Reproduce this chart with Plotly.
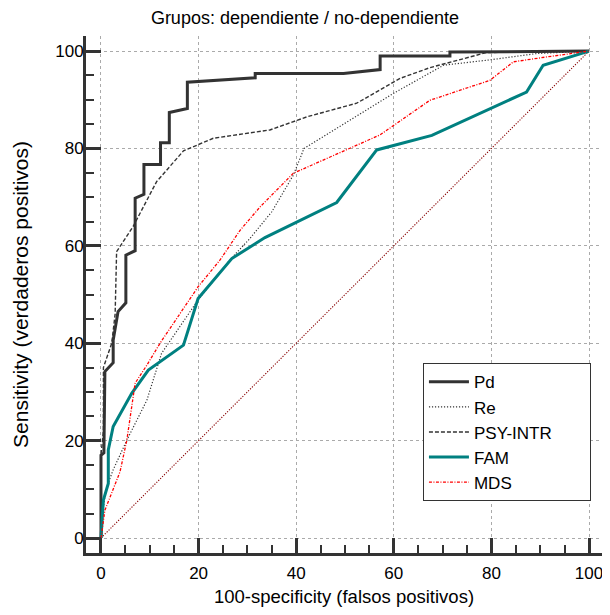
import plotly.graph_objects as go

# ---- data ----
pd_x = [0, 0, 0.6, 0.8, 2.5, 2.5, 3.5, 5.1, 5.1, 7, 7, 8.8, 8.8, 12.2, 12.2, 14, 14, 17.7, 17.7, 31.6, 31.6, 49.7, 57.2, 57.2, 71.5, 71.5, 100]
pd_y = [0, 17, 17.5, 34.2, 36, 40.6, 46.5, 48.3, 58.1, 59, 69.8, 70.6, 76.7, 76.7, 81.2, 81.2, 87.4, 88.2, 93.6, 94.5, 95.4, 95.4, 96.2, 99, 99, 99.8, 100]

re_x = [0, 0.3, 1, 2.5, 5.3, 9.4, 12.4, 19.9, 26.4, 30.5, 35, 39.4, 41.6, 49, 59.9, 70.2, 79.7, 89.3, 100]
re_y = [0, 5, 10, 14, 20.1, 28.3, 37.9, 48.9, 57.1, 61.5, 67, 74.5, 80, 84.5, 91.3, 97.1, 98.2, 99.5, 100]

psy_x = [0, 0, 0.5, 0.5, 2.2, 2.9, 3.2, 6.6, 11.4, 16.9, 23, 34.6, 42.2, 52.4, 61.3, 67.4, 79, 100]
psy_y = [0, 17, 22, 35, 40, 46, 58.8, 64, 73.2, 79.5, 82.1, 83.8, 86.5, 89.3, 94.4, 96.6, 99.7, 100]

fam_x = [0, 0.5, 1.5, 1.5, 2.5, 6.3, 9.7, 16.9, 19.9, 26.8, 33.6, 48.3, 56.5, 67.8, 87.2, 90.6, 100]
fam_y = [0, 7.8, 11.2, 18.1, 22.9, 29.7, 34.5, 39.6, 49.2, 57.4, 61.7, 68.9, 79.7, 82.7, 91.6, 97.1, 100]

mds_x = [0, 0.8, 3.9, 5.3, 7, 9.4, 12.1, 16.2, 19.9, 24.4, 28.5, 32.6, 39.4, 57.2, 67.4, 79.7, 84.5, 91.3, 100]
mds_y = [0, 5.7, 13.6, 20.1, 31.8, 35.5, 40, 46.1, 51.6, 57.1, 63.2, 68, 74.9, 82.8, 89.9, 94, 97.8, 98.8, 100]

diag_x = [0, 100]
diag_y = [0, 100]

series_names = ["Pd", "Re", "PSY-INTR", "FAM", "MDS"]

tick_vals = [0, 20, 40, 60, 80, 100]
tick_text = ["0", "20", "40", "60", "80", "100"]

FONT = "Liberation Sans, Arial, sans-serif"
PAD = "\u00a0" * 7  # widens the legend box to the reference width

fig = go.Figure()
fig.add_trace(go.Scatter(x=diag_x, y=diag_y, mode="lines", showlegend=False,
                         line=dict(color="#880000", width=1.1, dash="1.2px,1.5px"), hoverinfo="skip"))
fig.add_trace(go.Scatter(x=pd_x, y=pd_y, mode="lines", name=series_names[0],
                         line=dict(color="#333333", width=3)))
fig.add_trace(go.Scatter(x=re_x, y=re_y, mode="lines", name=series_names[1],
                         line=dict(color="#333333", width=1.2, dash="1.2px,1.8px")))
fig.add_trace(go.Scatter(x=psy_x, y=psy_y, mode="lines", name=series_names[2] + PAD,
                         line=dict(color="#333333", width=1.4, dash="4px,2px")))
fig.add_trace(go.Scatter(x=fam_x, y=fam_y, mode="lines", name=series_names[3],
                         line=dict(color="#008080", width=3)))
fig.add_trace(go.Scatter(x=mds_x, y=mds_y, mode="lines", name=series_names[4],
                         line=dict(color="#ff0000", width=1.3, dash="3px,1.5px,1px,1.5px")))

axis_common = dict(
    automargin=False,
    showline=True, linewidth=3, linecolor="#333333", mirror=False,
    ticks="inside", ticklen=15, tickwidth=3, tickcolor="#333333",
    tickvals=tick_vals, ticktext=tick_text, ticklabeloverflow="allow",
    showgrid=True, gridcolor="#aaaaaa", gridwidth=1, griddash="dot",
    zeroline=False,
    minor=dict(dtick=5, tick0=0, ticks="inside", ticklen=8, tickwidth=2, tickcolor="#333333", showgrid=False),
    tickfont=dict(family=FONT, size=17, color="#000000"),
)

# page body adds an 8px margin, so the figure is sized to fit the 610x615 window
W, H = 594, 599
fig.update_layout(
    width=W, height=H,
    margin=dict(l=78, r=0, t=28, b=54),
    paper_bgcolor="white", plot_bgcolor="white",
    title=dict(text="Grupos: dependiente / no-dependiente", x=0.5, xanchor="center",
               y=1 - 9.5 / H, yanchor="middle",
               font=dict(family=FONT, size=18, color="#000000")),
    xaxis=dict(range=[-3.07, 102.66], ticklabelstandoff=3,
               title=dict(text="100-specificity (falsos positivos)", standoff=17,
                          font=dict(family=FONT, size=18.5, color="#000000")),
               **axis_common),
    yaxis=dict(range=[-3.08, 103.1], ticklabelstandoff=-4,
               title=dict(text="Sensitivity (verdaderos positivos)", standoff=21,
                          font=dict(family=FONT, size=21, color="#000000")),
               **axis_common),
    legend=dict(x=0.653, y=0.367, xanchor="left", yanchor="top",
                bordercolor="#333333", borderwidth=1, bgcolor="white",
                font=dict(family=FONT, size=17, color="#000000"),
                itemwidth=40),
    showlegend=True,
)

fig.write_html("out.html")
